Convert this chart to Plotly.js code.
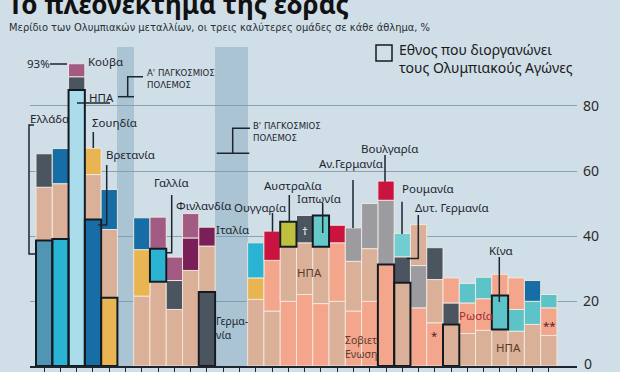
<!DOCTYPE html>
<html><head><meta charset="utf-8">
<script src="https://cdn.plot.ly/plotly-3.0.1.min.js"></script>
<style>html,body{margin:0;padding:0;background:#d0dee7;}#chart{width:620px;height:372px;}</style>
</head><body><div id="chart"></div>
<script>
// ---- DATA ----
const years = [1896,1900,1904,1908,1912,1916,1920,1924,1928,1932,1936,1940,1944,1948,1952,1956,1960,1964,1968,1972,1976,1980,1984,1988,1992,1996,2000,2004,2008,2012,2016,2020];
const team1  = ['GRE','FRA','USA04','GBR','SWE',null,'USA','USA','USA','USA','GER',null,null,'USA','USA','URS','URS','URS','USA','URS','URS','URS','USA','URS','EUN','USA','USA','USA','USA','USA','USA','USA'];
const share1 = [38.6,39.1,84.9,45.1,21.0,null,21.5,25.9,17.4,29.4,22.8,null,null,20.5,16.9,19.9,22.0,19.2,19.9,16.9,19.9,31.2,25.6,17.9,13.3,12.8,10.0,11.0,11.2,10.7,12.8,9.4];
const team2  = ['USA','USA','GER','USA','USA',null,'SWE','FRA','GER','ITA','USA',null,null,'SWE','URS','USA','USA','USA','URS','USA','USA','GDR','FRG','GDR','USA','GER','RUS','RUS','CHN','CHN','CHN','ROC'];
const share2 = [16.4,17.0,4.1,13.8,21.0,null,14.3,10.2,8.9,10.0,14.1,null,null,6.6,15.6,16.8,15.9,17.5,18.0,15.3,16.2,19.8,8.0,13.0,13.3,6.6,9.4,9.7,10.5,6.7,7.1,8.5];
const team3  = ['GER','GBR','CUB','SWE','GBR',null,'GBR','FIN','FIN','FIN','ITA',null,null,'FRA','HUN','AUS','EUA','JPN','HUN','GDR','GDR','BUL','ROU','USA','GER','RUS','CHN','CHN','RUS','RUS','GBR','CHN'];
const share3 = [10.3,10.8,4.0,8.1,12.3,null,9.8,9.7,7.2,7.5,5.8,null,null,10.8,9.0,7.7,8.4,9.6,5.4,10.3,13.9,5.9,7.2,12.6,9.8,7.7,6.0,6.6,6.5,9.7,6.4,4.1];
const hostRank = [1,1,1,1,1,0,0,2,0,0,1,0,0,0,0,3,0,3,0,0,0,1,1,0,0,1,0,0,2,0,0,0];
const warYears = [1916,1940,1944];
const yTicks = [20,40,60,80];

// ---- STYLE ----
const teamColor = {GRE:'#5096b4',FRA:'#2ab4d4',USA04:'#aadcec',USA:'#dab198',GBR:'#176ea6',SWE:'#e8b552',
  GER:'#4b5560',EUA:'#4b5560',FRG:'#4b5560',CUB:'#a25c84',FIN:'#a25c84',ITA:'#7a1f57',HUN:'#c8143e',BUL:'#c8143e',
  AUS:'#bfc13e',JPN:'#66c9c9',URS:'#f4a68c',EUN:'#f4a68c',RUS:'#f4a68c',ROC:'#f4a68c',GDR:'#9c9ca0',ROU:'#72cdd2',CHN:'#5cc4c8'};
const BG = '#d0dee7', INK = '#1d2530', BROWN = '#5b3a2c';

const idx = years.map((_, i) => i);
const shares = [share1, share2, share3];
const teams = [team1, team2, team3];
const bases = [idx.map(() => 0), idx.map(i => share1[i] || 0), idx.map(i => (share1[i] || 0) + (share2[i] || 0))];

const traces = [];
// war bands
traces.push({type:'bar', x: years.map((y,i)=>warYears.includes(y)?i:null).filter(v=>v!==null),
  y: warYears.map(()=>98), base: warYears.map(()=>0), width:1,
  marker:{color:'rgba(110,155,180,0.39)', line:{width:0}}, hoverinfo:'skip'});
for (let k = 0; k < 3; k++) {
  traces.push({type:'bar', x: idx, y: shares[k], base: bases[k], width: 1,
    marker:{color: teams[k].map(t => t ? teamColor[t] : 'rgba(0,0,0,0)'),
      line:{color:'rgba(244,234,224,0.9)', width:1}}, hoverinfo:'skip'});
}
// host outlines
const hx = [], hy = [], hb = [];
idx.forEach(i => { const r = hostRank[i]; if (r > 0) { hx.push(i); hy.push(shares[r-1][i]); hb.push(bases[r-1][i]); } });
traces.push({type:'bar', x: hx, y: hy, base: hb, width: 1,
  marker:{color:'rgba(0,0,0,0)', line:{color:'#141a22', width:2}}, hoverinfo:'skip'});

// pixel helpers (layout decoration only)
const L = 30, R = 577, T = 42, B = 366;
const PX = p => (p - L) / (R - L);
const PY = p => (B - p) / (B - T);
const lab = (text, px, py, o = {}) => ({text, x: PX(px), y: PY(py), xref:'paper', yref:'paper',
  xanchor: o.xa || 'left', yanchor:'middle', align: o.align || 'left', showarrow:false, borderpad:0, borderwidth:0,
  font:{family: o.fam || 'Noto Sans', size: o.size || 11.5, color: o.color || INK, weight: o.weight || 400}});
const path = (pts, w = 1.5) => ({type:'path', xref:'paper', yref:'paper',
  path: pts.map((p, j) => (j ? 'L' : 'M') + PX(p[0]) + ',' + PY(p[1])).join(' '),
  line:{color: INK, width: w}});
const NARROW = 'Liberation Sans Narrow, DejaVu Sans Condensed';

const annotations = [
  lab('<b>Το πλεονέκτημα της έδρας</b>', 8, 4, {size: 26, color:'#111'}),
  lab('Μερίδιο των Ολυμπιακών μεταλλίων, οι τρεις καλύτερες ομάδες σε κάθε άθλημα, %', 9, 27.5, {size: 11, fam: NARROW + ', Noto Sans', color:'#2a2f36'}),
  lab('Εθνος που διοργανώνει<br>τους Ολυμπιακούς Αγώνες', 399, 58.5, {size: 14, color:'#1a1a1a'}),
  lab('93%', 50, 64, {xa:'right'}),
  lab('Κούβα', 88, 61),
  lab('ΗΠΑ', 89, 97),
  lab('Ελλάδα', 30, 118),
  lab('Σουηδία', 92, 122),
  lab('Βρετανία', 106, 154),
  lab('Γαλλία', 154, 182),
  lab('Φινλανδία', 176, 205),
  lab('Ιταλία', 216, 229),
  lab('Γερμα-<br>νία', 216, 328, {size: 10.5}),
  lab('Ουγγαρία', 234, 207),
  lab('Αυστραλία', 264, 185),
  lab('Ιαπωνία', 297, 198),
  lab('Αν.Γερμανία', 319, 163),
  lab('Βουλγαρία', 361, 148),
  lab('Ρουμανία', 402, 188),
  lab('Δυτ. Γερμανία', 415, 207),
  lab('ΗΠΑ', 297, 272, {color: BROWN}),
  lab('Σοβιετ.<br>Ενωση', 345, 346.5, {color: BROWN, size: 10.5}),
  lab('Κίνα', 489, 250),
  lab('Ρωσία', 459, 315, {color:'#a02c3c'}),
  lab('ΗΠΑ', 496, 347, {color: BROWN}),
  lab('*', 434, 335, {xa:'center', color:'#5a1f2a'}),
  lab('**', 549, 325, {xa:'center', color:'#5a1f2a'}),
  lab('†', 305, 230, {xa:'center', color:'#ffffff'}),
  lab("Α' ΠΑΓΚΟΣΜΙΟΣ<br>ΠΟΛΕΜΟΣ", 147, 79, {size: 9.5, fam: NARROW}),
  lab("Β' ΠΑΓΚΟΣΜΙΟΣ<br>ΠΟΛΕΜΟΣ", 253, 131.7, {size: 9.5, fam: NARROW}),
  lab('0', 584, 363, {size: 14, color:'#2a2a2a'})
];

const shapes = [
  {type:'rect', xref:'paper', yref:'paper', x0: PX(376), x1: PX(392), y0: PY(45), y1: PY(61), line:{color:'#1a1a1a', width:1.5}},
  path([[50,64],[67,64]]),
  path([[77,103],[110,103]]),
  path([[34,125],[29,125],[29,254],[36,254]]),
  path([[93.3,132],[93.3,148]]),
  path([[106.7,165],[106.7,225],[98.3,225]]),
  path([[171.7,195],[171.7,252.7],[166,252.7]]),
  path([[272.5,213],[272.5,231.7]]),
  path([[289.3,195],[289.3,222]]),
  path([[322.7,203],[322.7,233]]),
  path([[353,180],[353,228]]),
  path([[385,155],[385,181.7]]),
  path([[402,201.7],[402,234]]),
  path([[418.3,215],[418.3,258.5],[406.7,258.5]]),
  path([[499.3,257],[499.3,302]]),
  path([[118,96.7],[134,96.7]]),
  path([[127.7,96.7],[127.7,76.7],[143,76.7]]),
  path([[216.7,153.3],[249.3,153.3]]),
  path([[232.7,153.3],[232.7,128.3],[250,128.3]])
];

const layout = {
  width: 620, height: 372, margin:{l: L, r: 620 - R, t: T, b: 372 - B},
  paper_bgcolor: BG, plot_bgcolor: BG, showlegend: false, barmode:'overlay', bargap: 0, hovermode: false,
  xaxis:{range:[-0.8686, 32.731], tickvals: idx, showticklabels:false, ticks:'outside', ticklen:6, tickcolor: INK, tickwidth:1,
    showline:true, linecolor: INK, linewidth:1.5, showgrid:false, zeroline:false, fixedrange:true},
  yaxis:{range:[0, 99.69], tickvals: yTicks, side:'right', showgrid:true, gridcolor:'#8ea0ac', gridwidth:1,
    zeroline:false, showline:false, ticks:'', ticklabelstandoff:5, tickfont:{family:'Noto Sans', size:14, color:'#2a2a2a'}, fixedrange:true},
  annotations, shapes
};
Plotly.newPlot('chart', traces, layout, {displayModeBar:false, staticPlot:true});
</script></body></html>
